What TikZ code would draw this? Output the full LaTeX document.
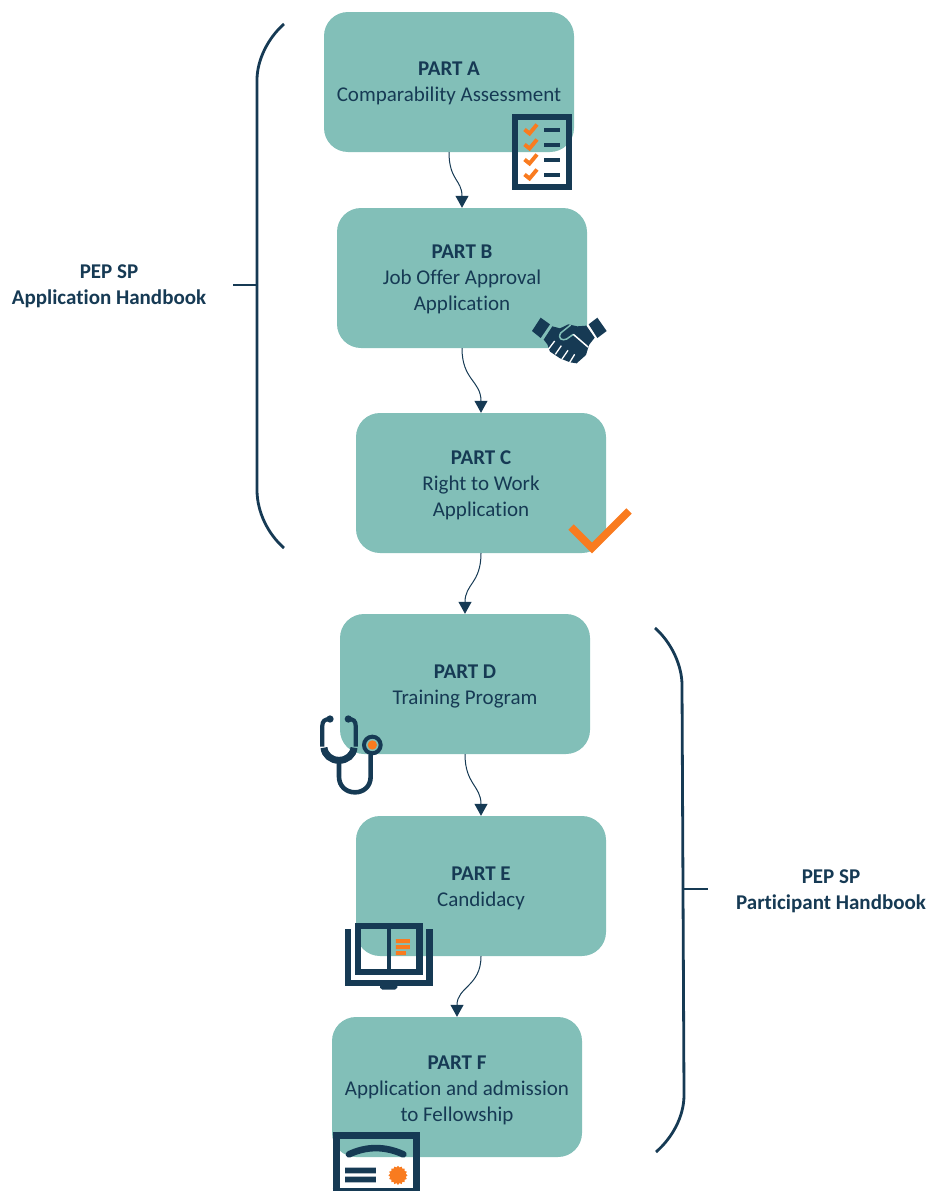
\documentclass[tikz,border=0pt]{standalone}
\usepackage{fontspec}
\setmainfont{Carlito}[Ligatures=CommonOff]
\usetikzlibrary{arrows.meta,shapes.geometric}
\definecolor{teal1}{HTML}{82BFB8}
\definecolor{navy}{HTML}{163A54}
\definecolor{orng}{HTML}{F97B1F}
\newcommand{\lowerstrut}[1]{\rule{0pt}{#1pt}}
\tikzset{
  partbox/.style={fill=teal1,rounded corners=24pt,minimum width=250pt,minimum height=140pt,inner sep=0pt,align=center,text=navy,font=\fontsize{21}{26}\selectfont},
  link/.style={draw=navy,line width=1pt,-{Triangle[width=13pt,length=12pt]}},
  brace/.style={draw=navy,line width=2.8pt},
  handbook/.style={text=navy,align=center,font=\fontsize{21}{26}\selectfont\bfseries,inner sep=0pt},
  icon/.style={draw=navy},
  tick/.style={draw=orng,line width=3.9pt},
  rowline/.style={draw=navy,line width=3.9pt}
}
\begin{document}
\begin{tikzpicture}[x=1pt,y=-1pt]
\useasboundingbox (0,0) rectangle (930,1191);
\node[partbox] (a) at (449,82) {\lowerstrut{16}\textbf{PART A}\\Comparability Assessment};
\node[partbox] (b) at (462,278) {\lowerstrut{16}\textbf{PART B}\\Job Offer Approval\\Application};
\node[partbox] (c) at (481,483) {\lowerstrut{18}\textbf{PART C}\\Right to Work\\Application};
\node[partbox] (d) at (465,684) {\lowerstrut{18}\textbf{PART D}\\Training Program};
\node[partbox] (e) at (481,886) {\lowerstrut{18}\textbf{PART E}\\Candidacy};
\node[partbox] (f) at (457,1087) {\lowerstrut{20}\textbf{PART F}\\Application and admission\\to Fellowship};
\draw[link] (a.south) .. controls +(0,28) and +(0,-28) .. (b.north);
\draw[link] (b.south) .. controls +(0,32) and +(0,-32) .. (c.north);
\draw[link] (c.south) .. controls +(0,30) and +(0,-30) .. (d.north);
\draw[link] (d.south) .. controls +(0,30) and +(0,-30) .. (e.north);
\draw[link] (e.south) .. controls +(0,30) and +(0,-30) .. (f.north);
% left bracket
\coordinate (lt) at (284,24); \coordinate (lb) at (284,548);
\coordinate (lm) at (257,285); \coordinate (ls) at (233,285);
\draw[brace] (lt) .. controls (268,38) and (257,60) .. (257,80) -- (257,490) .. controls (257,512) and (268,534) .. (lb);
\draw[brace] (lm) -- (ls);
\node[handbook] (lbl) at (109,286.5) {PEP SP\\Application Handbook};
% right bracket
\coordinate (rt) at (655,628); \coordinate (rb) at (656,1152);
\coordinate (rm) at (682,889); \coordinate (rs) at (708,889);
\draw[brace] (rt) .. controls (671,642) and (682,665) .. (682,685) -- (684,1095) .. controls (684,1117) and (672,1138) .. (rb);
\draw[brace] (rm) -- (rs);
\node[handbook] (rbl) at (831,891.5) {PEP SP\\Participant Handbook};
% checklist icon
\draw[icon,line width=6.4pt] (515,117) rectangle (569,187);
\foreach \yy in {130,145,160,175} {
  \draw[tick] (524.5,\yy-0.5) -- (529.5,\yy+3.5) -- (537,\yy-5.5);
  \draw[rowline] (544,\yy) -- (560,\yy);
}
% handshake icon
\begin{scope}[shift={(520,305)},x=0.3333pt,y=-0.3333pt]
  \fill[navy] (62,38) -- (90,58) -- (62,99) -- (36,78) -- cycle;
  \fill[navy] (232,38) -- (260,78) -- (232,99) -- (206,58) -- cycle;
  \fill[navy] (97,64) -- (120,70) -- (145,58) -- (172,64) -- (199,62) -- (224,98) -- (207,120) -- (198,150) -- (170,175) -- (150,172) -- (120,160) -- (90,140) -- (82,118) -- (71,104) -- cycle;
  \draw[teal1,line width=1.5pt] (152,60) -- (122,84) .. controls (112,102) and (128,108) .. (140,102) -- (160,88);
  \draw[white,line width=1.5pt] (160,88) -- (204,126);
  \draw[white,line width=1.3pt] (104,108) -- (86,132) (124,122) -- (106,148) (144,136) -- (126,162) (164,148) -- (148,174);
\end{scope}
% tick mark
\draw[draw=orng,line width=7.5pt] (571,527) -- (592,548) -- (629,511);
% stethoscope icon
\begin{scope}[shift={(305,705)},x=0.3333pt,y=-0.3333pt]
  \draw[navy,line width=4.2pt] (75,42) .. controls (60,42) and (52,48) .. (52,62) -- (52,125);
  \draw[navy,line width=4.2pt] (130,42) .. controls (145,42) and (152,48) .. (152,62) -- (152,125);
  \fill[navy] (75,42) circle (11); \fill[navy] (130,42) circle (11);
  \draw[navy,line width=7pt] (57,128) .. controls (59,150) and (78,166) .. (102,166) .. controls (126,166) and (145,150) .. (147,128);
  \draw[navy,line width=4.6pt] (102,174) -- (102,215) .. controls (102,245) and (125,262) .. (150,262) .. controls (175,262) and (197,245) .. (197,215) -- (197,150);
  \draw[navy,line width=4pt] (202,120) circle (25);
  \fill[orng] (202,120) circle (14);
\end{scope}
% book icon
\begin{scope}[shift={(335,915)},x=0.3333pt,y=-0.3333pt]
  \draw[navy,line width=6.2pt] (68.5,32) rectangle (253.5,171);
  \fill[navy] (155,40) rectangle (167,165);
  \draw[navy,line width=6.2pt] (38.5,42) -- (38.5,205) -- (283.5,205) -- (283.5,42);
  \fill[navy] (135,212) -- (187,212) -- (187,218) -- (180,224) -- (142,224) -- (135,218) -- cycle;
  \fill[orng] (183,72) rectangle (225,84) (183,90) rectangle (225,102) (183,108) rectangle (213,120);
\end{scope}
% certificate icon
\begin{scope}[shift={(325,1125)},x=0.3333pt,y=-0.3333pt]
  \draw[navy,line width=7pt] (33,198) -- (33,32) -- (274,32) -- (274,198);
  \draw[navy,line width=7pt] (23,198) -- (283,198);
  \draw[navy,line width=6.6pt,line cap=round] (72,88) .. controls (125,63) and (180,63) .. (235,88);
  \fill[navy] (60,128) rectangle (153,145) (60,155) rectangle (153,172);
  \node[star,star points=16,star point ratio=1.2,fill=orng,minimum size=19pt,inner sep=0pt] (seal) at (219,151) {};
\end{scope}
\end{tikzpicture}
\end{document}
